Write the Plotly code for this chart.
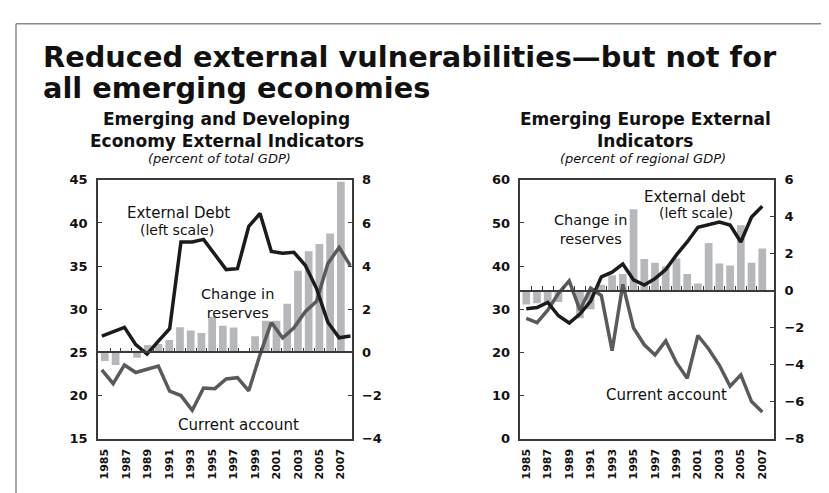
import plotly.graph_objects as go

W, H = 829, 493

# Data
years = list(range(1985, 2008))
tick_years = list(range(1985, 2008, 2))
bar_edges = [y + 0.5 for y in range(1985, 2007)]

# Emerging and developing economies (percent of total GDP)
em_debt = [26.9, 27.4, 27.9, 25.9, 24.8, 26.3, 27.75, 37.8, 37.8, 38.1, 36.3, 34.6,
           34.7, 39.6, 41.1, 36.7, 36.5, 36.6, 35.1, 32.4, 28.5, 26.7, 26.9]
em_current = [-0.81, -1.45, -0.58, -0.93, -0.78, -0.63, -1.8, -2.0, -2.68, -1.65, -1.68, -1.23,
              -1.17, -1.78, -0.1, 1.39, 0.67, 1.14, 1.89, 2.37, 4.12, 4.87, 4.01]
em_reserves = [-0.4, -0.58, 0.05, -0.25, 0.34, 0.39, 0.57, 1.17, 1.02, 0.9, 1.65, 1.24,
               1.15, 0.0, 0.75, 1.47, 1.47, 2.25, 3.79, 4.69, 5.02, 5.51, 7.91]

# Emerging Europe (percent of regional GDP)
eu_debt = [30.1, 30.4, 31.6, 28.5, 26.8, 28.9, 31.9, 37.5, 38.6, 40.5, 36.8, 35.6,
           37.1, 39.2, 42.6, 45.6, 49.0, 49.6, 50.2, 49.5, 45.6, 51.4, 53.9]
eu_current = [-1.49, -1.72, -1.05, -0.14, 0.53, -1.05, 0.14, -0.26, -3.24, 0.35, -2.01, -2.92,
              -3.47, -2.71, -3.89, -4.73, -2.42, -3.15, -4.03, -5.16, -4.55, -5.99, -6.56]
eu_reserves = [-0.74, -0.67, -0.7, -0.61, 0.05, -1.49, -1.0, 0.32, 0.84, 0.91, 4.41, 1.72,
               1.52, 1.31, 1.75, 0.91, 0.39, 2.59, 1.47, 1.37, 3.54, 1.52, 2.28]

# Styles
DARK = "#1b1b1b"
GREY = "#5a5a5a"
BAR = "#b6b7bb"
AXIS = "#3a3a3a"
FONT = "DejaVu Sans"


def fx(px):
    return px / W


def fy(px):
    return 1 - px / H


y_dom = [fy(437), fy(170)]
p1_dom = [fx(89), fx(343)]
p2_dom = [fx(512), fx(766)]

p1_left, p1_right = [15, 45], [-4, 8]
p2_left, p2_right = [0, 60], [-8, 6]


def zero_pos(rng):
    return y_dom[0] + (0 - rng[0]) / (rng[1] - rng[0]) * (y_dom[1] - y_dom[0])


fig = go.Figure()

# Left panel
fig.add_trace(go.Bar(x=years, y=em_reserves, xaxis="x", yaxis="y", width=0.72,
                     marker=dict(color=BAR, line_width=0)))
fig.add_trace(go.Scatter(x=years, y=em_current, xaxis="x3", yaxis="y", mode="lines",
                         line=dict(color=GREY, width=3.5)))
fig.add_trace(go.Scatter(x=years, y=em_debt, xaxis="x3", yaxis="y2", mode="lines",
                         line=dict(color=DARK, width=3.5)))
fig.add_trace(go.Scatter(x=[], y=[], xaxis="x4", yaxis="y"))

# Right panel
fig.add_trace(go.Bar(x=years, y=eu_reserves, xaxis="x2", yaxis="y3", width=0.72,
                     marker=dict(color=BAR, line_width=0)))
fig.add_trace(go.Scatter(x=years, y=eu_current, xaxis="x2", yaxis="y3", mode="lines",
                         line=dict(color=GREY, width=3.5)))
fig.add_trace(go.Scatter(x=years, y=eu_debt, xaxis="x2", yaxis="y4", mode="lines",
                         line=dict(color=DARK, width=3.5)))
fig.add_trace(go.Scatter(x=[], y=[], xaxis="x5", yaxis="y3"))

tick_font = dict(family=FONT, size=13, color="#111111", weight="bold")
xtick_font = dict(family=FONT, size=11, color="#111111", weight="bold")

xbase = dict(showline=True, linecolor=AXIS, linewidth=1.5, mirror=True, showgrid=False,
             zeroline=False, ticks="", tickmode="array", tickvals=tick_years,
             tickangle=-90, tickfont=xtick_font, ticklabelstandoff=4)
ybase = dict(showline=True, linecolor=AXIS, linewidth=1.5, showgrid=False, zeroline=False,
             ticks="inside", ticklen=4, tickcolor=AXIS, tickfont=tick_font,
             ticklabelstandoff=6)
zbase = dict(showline=True, linecolor=AXIS, linewidth=1.5, showgrid=False, zeroline=False,
             ticks="inside", ticklen=4, tickcolor=AXIS, tickmode="array",
             tickvals=bar_edges, showticklabels=False, anchor="free")

fig.update_layout(
    width=W, height=H,
    margin=dict(l=0, r=0, t=0, b=0),
    paper_bgcolor="white", plot_bgcolor="white",
    showlegend=False,
    font=dict(family=FONT, color="#111111"),
    xaxis=dict(xbase, domain=p1_dom, range=[1984.35, 2008.0], anchor="y"),
    xaxis3=dict(domain=p1_dom, range=[1984.65, 2007.1], overlaying="x", visible=False),
    xaxis4=dict(zbase, domain=p1_dom, range=[1984.35, 2008.0], overlaying="x",
                position=zero_pos(p1_right)),
    yaxis=dict(ybase, domain=y_dom, range=p1_right, dtick=2, side="right", anchor="x"),
    yaxis2=dict(ybase, range=p1_left, dtick=5, side="left", overlaying="y", anchor="x"),
    xaxis2=dict(xbase, domain=p2_dom, range=[1984.45, 2008.1], anchor="y3"),
    xaxis5=dict(zbase, domain=p2_dom, range=[1984.45, 2008.1], overlaying="x2",
                position=zero_pos(p2_right)),
    yaxis3=dict(ybase, domain=y_dom, range=p2_right, dtick=2, side="right", anchor="x2"),
    yaxis4=dict(ybase, range=p2_left, dtick=10, side="left", overlaying="y3", anchor="x2"),
)

ann = []
# Headline: two lines with tight leading (line step follows the 24px base size)
big = '<span style="font-size:28.8px">{}</span>'
ann.append(dict(text=big.format("Reduced external vulnerabilities—but not for") + "<br>"
                + big.format("all emerging economies"),
                x=fx(32), y=fy(59), xanchor="left", align="left",
                font=dict(size=24, weight="bold")))
# Panel titles
for cx, sx, lines, sub in [(218, 211, ["Emerging and Developing", "Economy External Indicators"],
                            "(percent of total GDP)"),
                           (637, 635, ["Emerging Europe External", "Indicators"],
                            "(percent of regional GDP)")]:
    ann.append(dict(text=lines[0], x=fx(cx), y=fy(107), font=dict(size=17, weight="bold")))
    ann.append(dict(text=lines[1], x=fx(cx), y=fy(130), font=dict(size=17, weight="bold")))
    ann.append(dict(text=sub, x=fx(sx), y=fy(148), font=dict(size=13, style="italic")))
for a in ann:
    a.update(xref="paper", yref="paper", showarrow=False, yanchor="middle")
    a.setdefault("xanchor", "center")
    a["font"].update(family=FONT, color="#111111")

# Series labels inside the plots
labels = [
    ("External Debt", 1991.9, 41.2, "x", "y2", 15),
    ("(left scale)", 1991.7, 39.2, "x", "y2", 14),
    ("Change in<br>reserves", 1997.35, 30.65, "x", "y2", 14.5),
    ("Current account", 1997.5, 16.6, "x", "y2", 15),
    ("External debt", 2000.7, 56.0, "x2", "y4", 15),
    ("(left scale)", 2000.8, 52.4, "x2", "y4", 14),
    ("Change in<br>reserves", 1990.95, 48.6, "x2", "y4", 14.5),
    ("Current account", 1998.1, 10.1, "x2", "y4", 15),
]
for text, x, y, xr, yr, size in labels:
    ann.append(dict(text=text, x=x, y=y, xref=xr, yref=yr, showarrow=False,
                    font=dict(family=FONT, size=size, color="#111111")))

fig.update_layout(annotations=ann)

# Slide frame
fig.add_shape(type="line", xref="paper", yref="paper", x0=fx(7), x1=1, y0=fy(9), y1=fy(9),
              line=dict(color="#8a8a8a", width=1.5))
fig.add_shape(type="line", xref="paper", yref="paper", x0=fx(7), x1=fx(7), y0=0, y1=fy(9),
              line=dict(color="#8a8a8a", width=1.5))

fig.write_html("out.html")
